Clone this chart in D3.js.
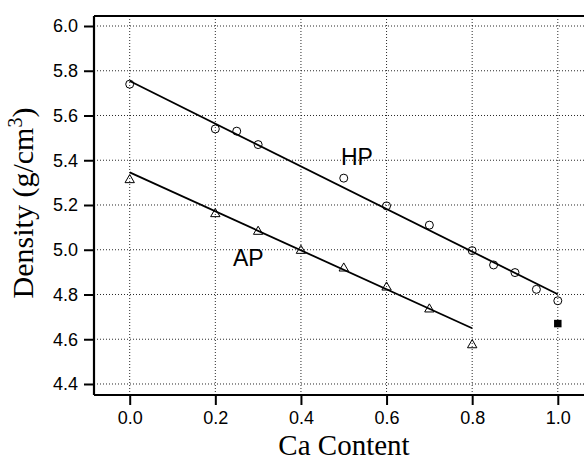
<!DOCTYPE html>
<html>
<head>
<meta charset="utf-8">
<script src="https://cdn.jsdelivr.net/npm/d3@7"></script>
<style>
  html, body { margin: 0; padding: 0; background: #fff; }
  svg { display: block; }
</style>
</head>
<body>
<div id="chart"></div>
<script>
// ---- data ----
const hpX = [0.0, 0.2, 0.25, 0.3, 0.5, 0.6, 0.7, 0.8, 0.85, 0.9, 0.95, 1.0];
const hpY = [5.74, 5.54, 5.53, 5.47, 5.32, 5.196, 5.11, 4.996, 4.932, 4.898, 4.823, 4.772];
const apX = [0.0, 0.2, 0.3, 0.4, 0.5, 0.6, 0.7, 0.8];
const apY = [5.312, 5.16, 5.081, 4.996, 4.917, 4.832, 4.734, 4.574];
const extraX = [1.0];
const extraY = [4.67];
const hpFitX = [0.0, 1.0];
const hpFitY = [5.754, 4.801];
const apFitX = [0.0, 0.8];
const apFitY = [5.346, 4.649];
const xTicks = [0.0, 0.2, 0.4, 0.6, 0.8, 1.0];
const yTicks = [4.4, 4.6, 4.8, 5.0, 5.2, 5.4, 5.6, 5.8, 6.0];

(function () {
const W = 584, H = 462;
const mL = 94, mR = 584, mT = 16, mB = 395;
const SERIF = "'Liberation Serif', 'Times New Roman', serif";
const SANS = "'Liberation Sans', Arial, sans-serif";

const x = d3.scaleLinear().domain([-0.0834, 1.0612]).range([mL, mR]);
const y = d3.scaleLinear().domain([4.3508, 6.0447]).range([mB, mT]);

const svg = d3.select("#chart").append("svg").attr("width", W).attr("height", H);

// grid
const grid = svg.append("g").attr("stroke", "#111").attr("stroke-width", 0.9)
  .attr("stroke-dasharray", "1,2");
grid.selectAll("line.gx").data(xTicks).join("line").attr("class", "gx")
  .attr("x1", d => x(d)).attr("x2", d => x(d))
  .attr("y1", mT).attr("y2", mB);
grid.selectAll("line.gy").data(yTicks).join("line").attr("class", "gy")
  .attr("x1", mL).attr("x2", mR)
  .attr("y1", d => y(d)).attr("y2", d => y(d));

// axes
const fmt = d3.format(".1f");
const xAxis = svg.append("g").attr("transform", `translate(0,${mB})`)
  .call(d3.axisBottom(x).tickValues(xTicks).tickFormat(fmt).tickSize(10).tickPadding(6).tickSizeOuter(0));
const yAxis = svg.append("g").attr("transform", `translate(${mL},0)`)
  .call(d3.axisLeft(y).tickValues(yTicks).tickFormat(fmt).tickSize(10).tickPadding(6).tickSizeOuter(0));
[xAxis, yAxis].forEach(a => {
  a.selectAll("text").style("font-family", SANS)
    .attr("font-size", 18).attr("fill", "#000");
  a.selectAll(".tick line").attr("stroke", "#000").attr("stroke-width", 2);
  a.select(".domain").attr("stroke", "#000").attr("stroke-width", 2.2);
});
yAxis.select(".domain").attr("d", `M0,${mT}V${mB}`);
xAxis.select(".domain").attr("d", `M${mL},0H${mR}`);

// top border
svg.append("line").attr("x1", mL).attr("x2", mR).attr("y1", mT).attr("y2", mT)
  .attr("stroke", "#000").attr("stroke-width", 2.2);

// fit lines
const line = d3.line().x(d => x(d[0])).y(d => y(d[1]));
svg.append("path").datum(hpFitX.map((v, i) => [v, hpFitY[i]]))
  .attr("d", line).attr("fill", "none").attr("stroke", "#000").attr("stroke-width", 1.8);
svg.append("path").datum(apFitX.map((v, i) => [v, apFitY[i]]))
  .attr("d", line).attr("fill", "none").attr("stroke", "#000").attr("stroke-width", 1.8);

// HP circles
svg.append("g").selectAll("circle").data(hpX.map((v, i) => [v, hpY[i]])).join("circle")
  .attr("cx", d => x(d[0])).attr("cy", d => y(d[1])).attr("r", 4)
  .attr("fill", "none").attr("stroke", "#000").attr("stroke-width", 1);

// AP triangles
const tri = d3.symbol().type(d3.symbolTriangle).size(38);
svg.append("g").selectAll("path").data(apX.map((v, i) => [v, apY[i]])).join("path")
  .attr("d", tri).attr("transform", d => `translate(${x(d[0])},${y(d[1])})`)
  .attr("fill", "none").attr("stroke", "#000").attr("stroke-width", 1);

// filled square
const sq = d3.symbol().type(d3.symbolSquare).size(56);
svg.append("g").selectAll("path").data(extraX.map((v, i) => [v, extraY[i]])).join("path")
  .attr("d", sq).attr("transform", d => `translate(${x(d[0])},${y(d[1])})`)
  .attr("fill", "#000");

// labels
svg.append("text").attr("x", 341).attr("y", 165).text("HP")
  .style("font-family", SANS).attr("font-size", 23);
svg.append("text").attr("x", 233).attr("y", 266).text("AP")
  .style("font-family", SANS).attr("font-size", 23);

// axis titles
svg.append("text").attr("x", 344).attr("y", 455).attr("text-anchor", "middle")
  .style("font-family", SERIF).attr("font-size", 29)
  .text("Ca Content");
const yt = svg.append("text").attr("transform", "translate(33,203) rotate(-90)")
  .attr("text-anchor", "middle")
  .style("font-family", SERIF).attr("font-size", 30);
yt.append("tspan").text("Density (g/cm");
yt.append("tspan").text("3").attr("font-size", 20).attr("dy", -11);
yt.append("tspan").text(")").attr("dy", 11);
})();
</script>
</body>
</html>
